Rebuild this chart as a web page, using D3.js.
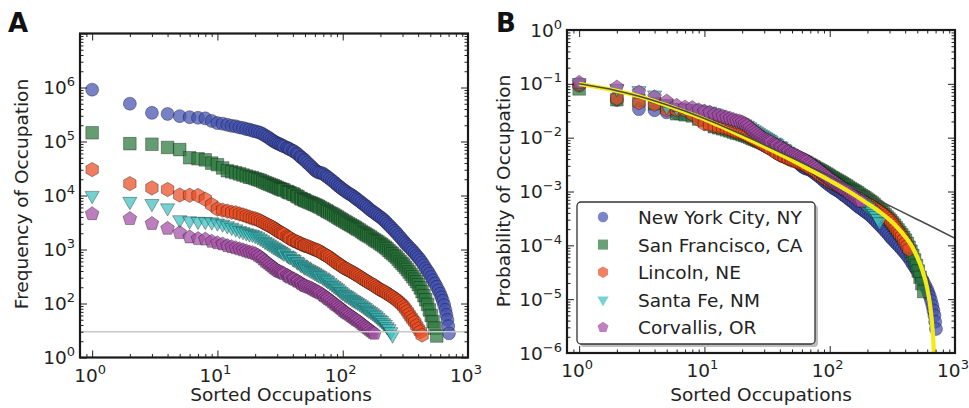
<!DOCTYPE html>
<html>
<head>
<meta charset="utf-8">
<script src="https://cdn.jsdelivr.net/npm/d3@7"></script>
<style>
  body { margin: 0; background: #fff; }
  svg { display: block; }
  text { font-family: "DejaVu Sans", sans-serif; fill: #222; }
</style>
</head>
<body>
<svg id="chart" width="969" height="408"></svg>
<script>
// ---- data -------------------------------------------------------------
const cities = ["New York City, NY", "San Francisco, CA", "Lincoln, NE", "Santa Fe, NM", "Corvallis, OR"];
const cityColors = ["#4250b0", "#2a773b", "#e94c22", "#3ebfbf", "#a24ca2"];
const cityShapes = ["circle", "square", "hexagon", "triangleDown", "pentagon"];

// occupation ranks at which counts are listed (shared by all cities)
const rankGrid = [1,2,3,4,5,6,7,8,9,10,11,12,13,14,15,16,17,18,19,
  20,21,22,23,24,25,26,27,28,29,
  30,31,32,33,34,36,37,38,40,41,
  43,44,46,47,49,50,52,54,56,58,
  60,62,64,66,69,71,74,76,79,82,
  85,88,91,94,97,100,104,107,111,115,
  119,123,127,131,136,141,146,151,156,161,
  167,173,179,185,191,198,205,212,219,226,
  234,242,250,259,268,277,287,297,307,317,
  328,339,351,363,376,389,402,416,430,445,
  460,476,492,509,526,544,563,581,600,615,
  630,645,660,672,685,695,705];

// number of workers in each ranked occupation
const countsNYC = [912000,501000,339000,324000,295000,282000,275000,269000,240000,219000,
  214000,204000,195000,191000,182000,178000,170000,166000,158000,
  155000,150000,145000,137000,129000,122000,115000,108000,102000,97000,
  93300,90000,87100,84000,81300,76500,74100,71500,67600,65000,
  60300,57500,52500,50000,46800,44500,40700,37500,34700,32000,
  29500,28000,26900,26300,25700,24500,22900,21800,20400,19000,
  17800,16600,15500,14600,13800,13000,12300,11600,11000,10500,
  10000,9450,8910,8400,7940,7400,6920,6550,6170,5750,
  5370,5050,4790,4520,4270,4020,3800,3550,3310,3050,
  2820,2600,2400,2210,2040,1860,1700,1550,1410,1300,
  1200,1100,1020,930,851,775,708,640,575,510,
  447,400,355,310,269,235,204,175,151,130,
  112,93,76,62,50,38,28];
const countsSF = [145000,91200,89100,77600,70800,50100,47900,45700,39800,37200,
  32400,28800,27500,26300,25100,24000,22900,21900,21400,
  20400,19700,19100,18200,17400,16800,16200,15600,15100,14600,
  14100,13600,13200,12900,12600,11900,11500,11200,10700,10400,
  9770,9450,8910,8600,8320,8050,7760,7500,7240,7000,
  6760,6530,6310,6050,5750,5520,5250,5020,4790,4580,
  4370,4170,3980,3800,3630,3470,3310,3160,3020,2880,
  2750,2630,2510,2400,2290,2160,2040,1950,1860,1780,
  1700,1600,1510,1440,1380,1300,1230,1160,1100,1030,
  955,890,832,775,724,660,603,555,513,468,
  427,385,347,312,282,252,224,195,166,140,
  117,96,76,60,46,35,25];
const countsLincoln = [30200,16600,13800,12900,10200,10100,10000,8510,6760,5620,
  5370,5130,4900,4790,4570,4370,4170,3980,3800,
  3720,3550,3390,3200,3020,2880,2750,2630,2510,2370,
  2240,2140,2040,1980,1910,1740,1660,1600,1480,1450,
  1380,1350,1290,1250,1200,1180,1150,1110,1070,1030,
  1000,975,955,905,851,815,776,745,708,660,
  617,585,550,525,501,475,447,432,417,398,
  380,363,347,332,316,298,282,270,257,245,
  234,224,214,202,191,182,174,168,162,153,
  145,138,132,124,117,110,102,95,87,79,
  71,63,56,50,45,39,34,30,26];
const countsSantaFe = [10000,7760,7080,5890,3550,3390,3310,3300,3240,3090,
  2950,2750,2570,2400,2240,2140,2040,1950,1910,
  1820,1720,1620,1510,1410,1330,1260,1190,1120,1070,
  1020,975,933,890,851,790,759,730,676,650,
  603,580,537,515,490,470,447,427,407,390,
  372,355,339,326,309,292,275,262,245,229,
  214,202,191,178,166,157,148,142,135,127,
  120,115,110,105,100,94,89,84,79,75,
  71,67,63,59,55,51,48,44,41,37,
  34,30,26];
const countsCorvallis = [4570,3720,3020,2450,2040,1700,1580,1550,1410,1320,
  1260,1170,1120,1070,1020,977,933,891,871,
  832,775,724,660,603,562,525,490,457,430,
  407,393,380,367,355,330,316,305,288,279,
  263,255,240,230,219,212,204,198,191,182,
  174,168,162,155,145,137,129,122,115,107,
  100,94,89,84,79,74,69,66,63,59,
  56,53,50,48,45,42,39,37,35,33,
  31,29,28];
const cityCounts = [countsNYC, countsSF, countsLincoln, countsSantaFe, countsCorvallis];
// total workforce of each city (normalises counts into probabilities)
const workforceTotals = [1.0e7, 1.8e6, 3.1e5, 9.5e4, 4.3e4];

// minimum-count threshold marked in panel A
const countThreshold = 30;

// fitted curve with finite-size cutoff (yellow)
const cutoffFitRanks = [1,2,3,5,7,10,15,20,30,50,70,100,150,200,250,300,350,400,450,500,550,600,630,650,665,675,682];
const cutoffFitProb = [0.1,0.074,0.059,0.040,0.030,0.022,0.0145,0.0107,0.0068,0.0038,0.0025,0.0016,
  9.3e-4,6.0e-4,4.2e-4,3.0e-4,2.1e-4,1.45e-4,9.8e-5,6.0e-5,3.4e-5,1.6e-5,8.3e-6,4.5e-6,2.4e-6,1.3e-6,5e-7];
// fitted curve without cutoff (dark grey)
const powerFitRanks = [1,2,3,5,7,10,15,20,30,50,70,100,150,200,300,500,700,1000];
const powerFitProb = [0.1,0.0746,0.059,0.041,0.0312,0.0226,0.0153,0.0114,0.0074,0.00423,0.0029,0.00194,
  0.00122,8.75e-4,5.47e-4,3.03e-4,2.05e-4,1.35e-4];

// tick labels (base 10, exponent as superscript)
const rankTickValues = [1, 10, 100, 1000];
const rankTickExponents = ["0", "1", "2", "3"];
const freqTickValues = [1e1, 1e2, 1e3, 1e4, 1e5, 1e6];
const freqTickExponents = ["0", "2", "3", "4", "5", "6"];
const probTickValues = [1, 1e-1, 1e-2, 1e-3, 1e-4, 1e-5, 1e-6];
const probTickExponents = ["0", "\u22121", "\u22122", "\u22123", "\u22124", "\u22125", "\u22126"];

// ---- marker shapes ------------------------------------------------------
function regularPolygon(n, rotation) {
  return {
    draw(ctx, size) {
      const r = Math.sqrt(size);
      for (let i = 0; i < n; i++) {
        const a = rotation + i * 2 * Math.PI / n;
        const px = r * Math.sin(a), py = -r * Math.cos(a);
        if (i === 0) ctx.moveTo(px, py); else ctx.lineTo(px, py);
      }
      ctx.closePath();
    }
  };
}
const shapeTypes = {
  circle: { draw(ctx, size) { const r = Math.sqrt(size); ctx.moveTo(r, 0); ctx.arc(0, 0, r, 0, 2 * Math.PI); } },
  square: { draw(ctx, size) { const r = Math.sqrt(size); ctx.rect(-r, -r, 2 * r, 2 * r); } },
  hexagon: regularPolygon(6, 0),
  triangleDown: regularPolygon(3, Math.PI),
  pentagon: regularPolygon(5, 0)
};
const shapeRadius = { circle: 6.5, square: 6.3, hexagon: 7.2, triangleDown: 8.2, pentagon: 7.2 };
function symbolPath(shape, scale) {
  const r = shapeRadius[shape] * scale;
  return d3.symbol().type(shapeTypes[shape]).size(r * r)();
}

// ---- drawing helpers ------------------------------------------------------
const svg = d3.select("#chart");

function minorTicks(lo, hi) {
  const out = [];
  for (let e = Math.floor(Math.log10(lo)); e < Math.ceil(Math.log10(hi)); e++) {
    for (let m = 2; m <= 9; m++) {
      const v = m * Math.pow(10, e);
      if (v > lo * 1.0001 && v < hi * 0.9999) out.push(v);
    }
  }
  return out;
}

function drawFrame(g, x, y, xMajor, yMajor) {
  const [x0, x1] = x.range(), [y0, y1] = y.range();
  const xMinor = minorTicks(x.domain()[0], x.domain()[1]);
  const yMinor = minorTicks(y.domain()[0], y.domain()[1]);
  const tickAxis = (axis, t) => g.append("g").attr("transform", t).call(axis)
    .call(s => s.select(".domain").remove())
    .call(s => s.selectAll("line").attr("stroke", "#222").attr("stroke-width", 1));
  // inward ticks on all four sides
  tickAxis(d3.axisBottom(x).tickValues(xMajor).tickSize(-7).tickFormat(""), `translate(0,${y0})`);
  tickAxis(d3.axisBottom(x).tickValues(xMinor).tickSize(-3.5).tickFormat(""), `translate(0,${y0})`);
  tickAxis(d3.axisTop(x).tickValues(xMajor).tickSize(-7).tickFormat(""), `translate(0,${y1})`);
  tickAxis(d3.axisTop(x).tickValues(xMinor).tickSize(-3.5).tickFormat(""), `translate(0,${y1})`);
  tickAxis(d3.axisLeft(y).tickValues(yMajor).tickSize(-7).tickFormat(""), `translate(${x0},0)`);
  tickAxis(d3.axisLeft(y).tickValues(yMinor).tickSize(-3.5).tickFormat(""), `translate(${x0},0)`);
  tickAxis(d3.axisRight(y).tickValues(yMajor).tickSize(-7).tickFormat(""), `translate(${x1},0)`);
  tickAxis(d3.axisRight(y).tickValues(yMinor).tickSize(-3.5).tickFormat(""), `translate(${x1},0)`);
  g.append("rect")
    .attr("x", x0).attr("y", y1).attr("width", x1 - x0).attr("height", y0 - y1)
    .attr("fill", "none").attr("stroke", "#1a1a1a").attr("stroke-width", 2.2);
}

function powerLabel(g, px, py, exponent, anchor) {
  const t = g.append("text").attr("x", px).attr("y", py)
    .attr("text-anchor", anchor).attr("font-size", 18.5);
  t.append("tspan").text("10");
  t.append("tspan").attr("dy", -8).attr("font-size", 13).text(exponent);
}

function drawTickLabels(g, x, y, xVals, xExp, yVals, yExp) {
  const yBase = y.range()[0];
  xVals.forEach((v, i) => powerLabel(g, x(v) - 2, yBase + 24, xExp[i], "middle"));
  yVals.forEach((v, i) => powerLabel(g, x.range()[0] - 5, y(v) + 6.5, yExp[i], "end"));
}

function drawMarkers(g, x, y, valueOf) {
  cities.forEach((city, ci) => {
    const pts = cityCounts[ci].map((c, i) => ({ rank: rankGrid[i], value: valueOf(c, ci) }));
    g.append("g").selectAll("path").data(pts).join("path")
      .attr("transform", d => `translate(${x(d.rank)},${y(d.value)})`)
      .attr("d", symbolPath(cityShapes[ci], 1))
      .attr("fill", cityColors[ci]).attr("fill-opacity", 0.72)
      .attr("stroke", "#000").attr("stroke-width", 0.6).attr("stroke-opacity", 0.55);
  });
}

// ---- panel A: raw counts ------------------------------------------------------
const xA = d3.scaleLog().domain([0.8, 1000]).range([80, 468]);
const yA = d3.scaleLog().domain([10, 1e7]).range([357.5, 33.5]);
const gA = svg.append("g");
gA.append("defs").append("clipPath").attr("id", "clipA")
  .append("rect").attr("x", 80).attr("y", 33.5).attr("width", 388).attr("height", 324);
drawMarkers(gA.append("g").attr("clip-path", "url(#clipA)"), xA, yA, c => c);
gA.append("line")
  .attr("x1", xA.range()[0]).attr("x2", xA.range()[1])
  .attr("y1", yA(countThreshold)).attr("y2", yA(countThreshold))
  .attr("stroke", "#c8c8c8").attr("stroke-width", 1.6);
drawFrame(gA, xA, yA, rankTickValues, d3.range(1, 8).map(e => Math.pow(10, e)));
drawTickLabels(gA, xA, yA, rankTickValues, rankTickExponents, freqTickValues, freqTickExponents);
gA.append("text").attr("x", 281).attr("y", 401).attr("text-anchor", "middle")
  .attr("font-size", 18.5).text("Sorted Occupations");
gA.append("text").attr("transform", "translate(28,194) rotate(-90)").attr("text-anchor", "middle")
  .attr("font-size", 18.5).text("Frequency of Occupation");
gA.append("text").attr("x", 8).attr("y", 32).attr("font-size", 26).attr("font-weight", "bold")
  .style("fill", "#111").text("A");

// ---- panel B: normalised probabilities --------------------------------------------
const xB = d3.scaleLog().domain([0.8, 1000]).range([567, 955]);
const yB = d3.scaleLog().domain([1e-6, 1]).range([353, 30]);
const gB = svg.append("g");
gB.append("defs").append("clipPath").attr("id", "clipB")
  .append("rect").attr("x", 567).attr("y", 30).attr("width", 388).attr("height", 323);
const plotB = gB.append("g").attr("clip-path", "url(#clipB)");
drawMarkers(plotB, xB, yB, (c, ci) => c / workforceTotals[ci]);
const fitLine = d3.line().x(d => xB(d[0])).y(d => yB(d[1])).curve(d3.curveMonotoneX);
plotB.append("path")
  .attr("d", fitLine(cutoffFitRanks.map((r, i) => [r, cutoffFitProb[i]])))
  .attr("fill", "none").attr("stroke", "#f4ea14").attr("stroke-width", 4.2);
plotB.append("path")
  .attr("d", fitLine(powerFitRanks.map((r, i) => [r, powerFitProb[i]])))
  .attr("fill", "none").attr("stroke", "#4a4a4a").attr("stroke-width", 1.6);
drawFrame(gB, xB, yB, rankTickValues, probTickValues);
drawTickLabels(gB, xB, yB, rankTickValues, rankTickExponents, probTickValues, probTickExponents);
gB.append("text").attr("x", 761).attr("y", 401).attr("text-anchor", "middle")
  .attr("font-size", 18.5).text("Sorted Occupations");
gB.append("text").attr("transform", "translate(510,191) rotate(-90)").attr("text-anchor", "middle")
  .attr("font-size", 18.5).text("Probability of Occupation");
gB.append("text").attr("x", 496).attr("y", 32).attr("font-size", 26).attr("font-weight", "bold")
  .style("fill", "#111").text("B");

// legend
const legend = gB.append("g").attr("transform", "translate(577,202)");
legend.append("rect").attr("x", 3).attr("y", 3).attr("width", 238).attr("height", 142)
  .attr("rx", 4).attr("fill", "#bdbdbd");
legend.append("rect").attr("width", 238).attr("height", 142).attr("rx", 4)
  .attr("fill", "#fff").attr("stroke", "#333").attr("stroke-width", 1.3);
cities.forEach((city, ci) => {
  const row = legend.append("g").attr("transform", `translate(0,${15 + ci * 27.6})`);
  row.append("path").attr("transform", "translate(26,0)")
    .attr("d", symbolPath(cityShapes[ci], 0.8))
    .attr("fill", cityColors[ci]).attr("fill-opacity", 0.7);
  row.append("text").attr("x", 61).attr("y", 7).attr("font-size", 18.5).text(city);
});
</script>
</body>
</html>
